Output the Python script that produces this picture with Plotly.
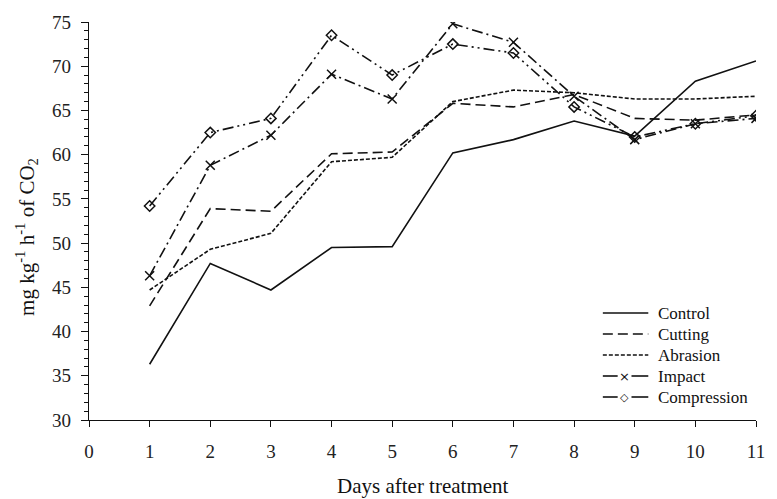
import plotly.graph_objects as go

# Days after treatment
days = [1, 2, 3, 4, 5, 6, 7, 8, 9, 10, 11]

# CO2 respiration rate (mg kg-1 h-1) per treatment
control = [36.3, 47.7, 44.7, 49.5, 49.6, 60.2, 61.7, 63.8, 62.1, 68.3, 70.6]
cutting = [42.9, 53.9, 53.6, 60.1, 60.3, 65.8, 65.4, 66.8, 64.1, 63.9, 64.5]
abrasion = [44.7, 49.3, 51.1, 59.2, 59.7, 66.0, 67.3, 67.0, 66.3, 66.3, 66.6]
impact = [46.3, 58.8, 62.2, 69.1, 66.3, 74.8, 72.7, 66.6, 61.7, 63.5, 64.1]
compression = [54.2, 62.5, 64.1, 73.5, 69.0, 72.5, 71.5, 65.4, 62.0, 63.5, 64.4]

x_ticks = list(range(0, 12))
y_ticks = list(range(30, 80, 5))

FONT = "Liberation Serif"
INK = "#111111"

series = [
    ("Control", control, "solid", None, None),
    ("Cutting", cutting, "10px,5px", None, None),
    ("Abrasion", abrasion, "4px,2px", None, None),
    ("Impact", impact, "11px,4px,2px,4px", "x-thin-open", "×"),
    ("Compression", compression, "11px,4px,2px,4px,2px,4px", "diamond-open", "◇"),
]

fig = go.Figure()
for name, vals, dash, sym, _ in series:
    kw = dict(mode="lines")
    if sym:
        kw = dict(
            mode="lines+markers",
            marker=dict(symbol=sym, size=8 if sym.startswith("diamond") else 9,
                        color=INK, line=dict(color=INK, width=1.5)),
        )
    fig.add_trace(go.Scatter(
        x=days, y=vals, name=name, showlegend=False,
        line=dict(color=INK, width=1.6, dash=dash),
        **kw,
    ))

# Key in the lower right corner of the plot, built from shapes and text
L, R, T, B = 89, 764, 22, 420          # plot area in pixels
W, H = R - L, B - T


def px(xp):
    return (xp - L) / W


def py(yp):
    return (B - yp) / H


shapes, notes = [], []
for i, (name, _, dash, sym, glyph) in enumerate(series):
    yrow = 313 + 21 * i
    if glyph is None:
        shapes.append(dict(type="line", xref="paper", yref="paper",
                           x0=px(609), x1=px(655), y0=py(yrow), y1=py(yrow),
                           line=dict(color=INK, width=1.6, dash=dash)))
    else:
        for a, b in ((609, 624), (638, 655)):
            shapes.append(dict(type="line", xref="paper", yref="paper",
                               x0=px(a), x1=px(b), y0=py(yrow), y1=py(yrow),
                               line=dict(color=INK, width=1.6)))
        notes.append(dict(text=glyph, xref="paper", yref="paper",
                          x=px(631), y=py(yrow), xanchor="center", yanchor="middle",
                          showarrow=False,
                          font=dict(family="DejaVu Sans", size=11 if glyph == "◇" else 13,
                                    color=INK)))
    notes.append(dict(text=name, xref="paper", yref="paper",
                      x=px(663), y=py(yrow), xanchor="left", yanchor="middle",
                      showarrow=False, font=dict(family=FONT, size=17, color=INK)))

notes += [
    dict(text="Days after treatment", xref="paper", yref="paper",
         x=0.5, y=0, xanchor="center", yanchor="middle", yshift=-66,
         showarrow=False, font=dict(family=FONT, size=21, color=INK)),
    dict(text="mg kg<sup>-1</sup> h<sup>-1</sup> of CO<sub>2</sub>",
         xref="paper", yref="paper", x=0, y=0.46,
         xanchor="center", yanchor="middle", xshift=-62, textangle=-90,
         showarrow=False, font=dict(family=FONT, size=21, color=INK)),
]

fig.update_layout(
    width=777, height=499,
    margin=dict(l=L, r=777 - R, t=T, b=499 - B),
    paper_bgcolor="white", plot_bgcolor="white",
    font=dict(family=FONT, color=INK),
    showlegend=False,
    xaxis=dict(
        range=[0, 11], tickvals=x_ticks, ticktext=[str(v) for v in x_ticks],
        showgrid=False, zeroline=False,
        showline=True, linecolor=INK, linewidth=1.2,
        ticks="outside", ticklen=6, tickwidth=1.2, tickcolor=INK,
        tickfont=dict(family=FONT, size=19, color="#222"),
        ticklabelstandoff=8,
    ),
    yaxis=dict(
        range=[30, 75], tickvals=y_ticks, ticktext=[str(v) for v in y_ticks],
        showgrid=False, zeroline=False,
        showline=True, linecolor=INK, linewidth=1.2,
        ticks="outside", ticklen=7, tickwidth=1.2, tickcolor=INK,
        tickfont=dict(family=FONT, size=19, color="#222"),
        ticklabelstandoff=6,
        minor=dict(dtick=1, ticks="outside", ticklen=4, tickwidth=1, tickcolor=INK,
                   showgrid=False),
    ),
    shapes=shapes,
    annotations=notes,
)

fig.write_html("out.html")
